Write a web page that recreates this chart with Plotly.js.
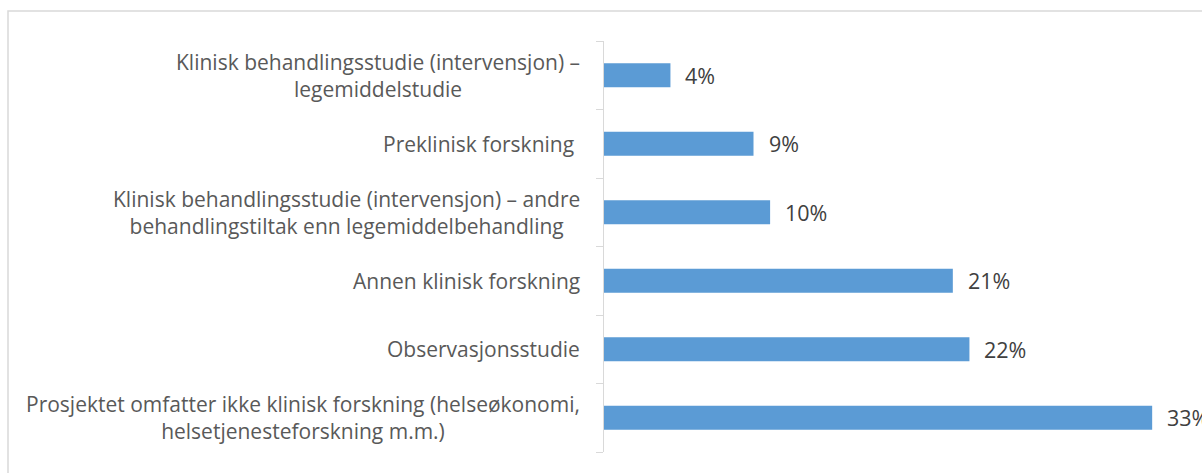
<!DOCTYPE html>
<html><head><meta charset="utf-8">
<script src="https://cdn.plot.ly/plotly-3.0.1.min.js"></script>
<style>html,body{margin:0;padding:0;background:#fff;}#chart{width:1202px;height:473px;}</style>
</head><body><div id="chart"></div>
<script>
const categories = [
  "Prosjektet omfatter ikke klinisk forskning (helseøkonomi,<br>helsetjenesteforskning m.m.)",
  "Observasjonsstudie",
  "Annen klinisk forskning",
  "Klinisk behandlingsstudie (intervensjon) – andre<br>behandlingstiltak enn legemiddelbehandling",
  "Preklinisk forskning\u00a0",
  "Klinisk behandlingsstudie (intervensjon) –<br>legemiddelstudie"
];
const values = [33, 22, 21, 10, 9, 4];
const valueLabels = values.map(v => v + "%");

const trace = {
  type: "bar", orientation: "h",
  x: values, y: categories,
  marker: {color: "#5b9bd5"},
  width: 0.35,
  hoverinfo: "none"
};
const valueAnn = values.map((v, i) => ({
  x: v, y: categories[i], xref: "x", yref: "y",
  text: valueLabels[i], showarrow: false, xanchor: "left", xshift: 13,
  font: {family: "Open Sans", size: 21.5, color: "#404040"}
}));
const catAnn = categories.map(c => ({
  x: 0, y: c, xref: "paper", yref: "y",
  text: c, showarrow: false, xanchor: "right", align: "center", xshift: -22,
  font: {family: "Open Sans", size: 21, color: "#595959"}
}));
const layout = {
  width: 1202, height: 473,
  margin: {l: 604, r: 0, t: 41, b: 21, pad: 0},
  paper_bgcolor: "#fff", plot_bgcolor: "#fff",
  showlegend: false,
  xaxis: {range: [0, 36], visible: false, fixedrange: true},
  yaxis: {
    type: "category", categoryorder: "array", categoryarray: categories,
    showline: true, linecolor: "#d9d9d9", linewidth: 1,
    ticks: "outside", tickson: "boundaries", ticklen: 7, tickcolor: "#d9d9d9",
    showticklabels: false,
    showgrid: false, zeroline: false, fixedrange: true
  },
  annotations: valueAnn.concat(catAnn),
  shapes: [{
    type: "rect", xref: "paper", yref: "paper",
    x0: (8 - 604) / 598, x1: 1.05, y0: -0.2, y1: 1 + 30 / 411,
    line: {color: "#d9d9d9", width: 1.5}, fillcolor: "rgba(0,0,0,0)", layer: "below"
  }]
};
Plotly.newPlot("chart", [trace], layout, {displayModeBar: false, staticPlot: true});
</script></body></html>
